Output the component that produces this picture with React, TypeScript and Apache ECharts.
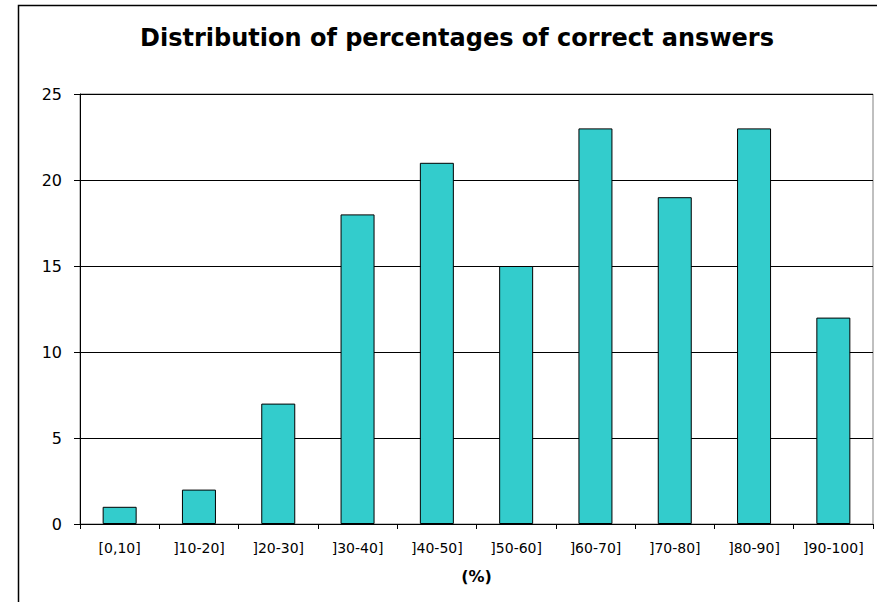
import React, { useEffect, useRef } from "react";
import * as echarts from "echarts";

const categories = ["[0,10]", "]10-20]", "]20-30]", "]30-40]", "]40-50]", "]50-60]", "]60-70]", "]70-80]", "]80-90]", "]90-100]"];
const counts = [1, 2, 7, 18, 21, 15, 23, 19, 23, 12];
const titleText = "Distribution of percentages of correct answers";
const xName = "(%)";

export default function App() {
  const ref = useRef<HTMLDivElement>(null);
  useEffect(() => {
    if (!ref.current) return;
    const chart = echarts.init(ref.current, null, { renderer: "svg" });
    const font = "'DejaVu Sans', 'Liberation Sans', Arial, sans-serif";
    chart.setOption({
      animation: false,
      backgroundColor: "#ffffff",
      textStyle: { fontFamily: font },
      graphic: [
        {
          type: "rect",
          shape: { x: 18.5, y: 5.5, width: 900, height: 700 },
          style: { fill: "none", stroke: "#000", lineWidth: 1.5 },
          silent: true,
          z: 0,
        },
      ],
      title: {
        text: titleText,
        left: 452,
        top: 21,
        textAlign: "center",
        textStyle: { fontFamily: font, fontWeight: "bold", fontSize: 24, color: "#000" },
      },
      grid: {
        left: 80,
        right: 4,
        top: 94,
        bottom: 78,
        show: true,
        borderColor: "#808080",
        borderWidth: 1,
        backgroundColor: "transparent",
      },
      xAxis: {
        type: "category",
        data: categories,
        name: xName,
        nameLocation: "middle",
        nameGap: 44,
        nameTextStyle: { fontFamily: font, fontWeight: "bold", fontSize: 16, color: "#000" },
        axisLine: { show: true, lineStyle: { color: "#000", width: 1 } },
        axisTick: { show: true, alignWithLabel: false, length: 5, lineStyle: { color: "#000" } },
        axisLabel: { fontFamily: font, fontSize: 14, color: "#000", margin: 17, interval: 0 },
        splitLine: { show: false },
      },
      yAxis: {
        type: "value",
        min: 0,
        max: 25,
        interval: 5,
        axisLine: { show: true, lineStyle: { color: "#000", width: 1 } },
        axisTick: { show: true, length: 6, lineStyle: { color: "#000" } },
        axisLabel: { fontFamily: font, fontSize: 16, color: "#000", margin: 18 },
        splitLine: { show: true, lineStyle: { color: "#000", width: 1 } },
      },
      series: [
        {
          type: "bar",
          data: counts,
          barWidth: 34,
          itemStyle: { color: "#33CCCC", borderColor: "#000", borderWidth: 1 },
        },
      ],
    });
    return () => chart.dispose();
  }, []);
  return (
    <div
      ref={ref}
      style={{ position: "fixed", left: 0, top: 0, width: 877, height: 602 }}
    />
  );
}
